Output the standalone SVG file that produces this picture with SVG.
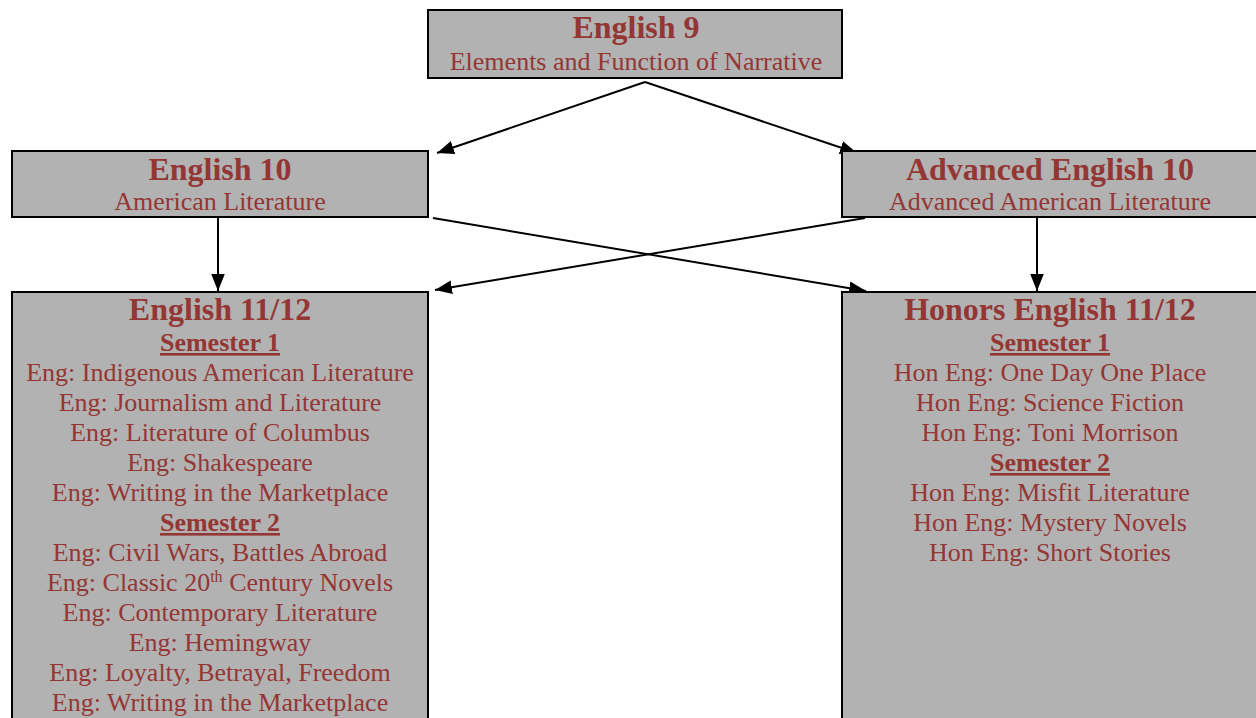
<svg xmlns="http://www.w3.org/2000/svg" width="1256" height="718" viewBox="0 0 1256 718">
<style>
.box{fill:#b2b2b2;stroke:#000;stroke-width:2}
text{font-family:"Liberation Serif","Times New Roman",serif;fill:#943634;text-anchor:middle}
.t{font-size:32px;font-weight:bold}
.s{font-size:26px}
.h{font-size:26px;font-weight:bold;text-decoration:underline}
.c{stroke:#000;stroke-width:2;fill:none;marker-end:url(#ah)}
</style>
<defs>
<marker id="ah" viewBox="0 0 10 8" refX="10" refY="4" markerWidth="8.5" markerHeight="7" orient="auto" markerUnits="strokeWidth">
<path d="M0,0 L10,4 L0,8 z" fill="#000"/>
</marker>
</defs>
<rect width="1256" height="718" fill="#fff"/>
<g id="connectors">
<line class="c" x1="645" y1="82" x2="437" y2="153"/>
<line class="c" x1="645" y1="82" x2="857" y2="153"/>
<line class="c" x1="218" y1="218" x2="218" y2="291"/>
<line class="c" x1="1037" y1="218" x2="1037" y2="291"/>
<line class="c" x1="433" y1="218" x2="866" y2="291"/>
<line class="c" x1="865" y1="218" x2="435" y2="290"/>
</g>
<g id="english9">
<rect class="box" x="428" y="10" width="414" height="68"/>
<text class="t" x="636" y="38">English 9</text>
<text class="s" x="636" y="70">Elements and Function of Narrative</text>
</g>
<g id="english10">
<rect class="box" x="12" y="151" width="416" height="66"/>
<text class="t" x="220" y="180">English 10</text>
<text class="s" x="220" y="210">American Literature</text>
</g>
<g id="advanced10">
<rect class="box" x="842" y="151" width="420" height="66"/>
<text class="t" x="1050" y="180">Advanced English 10</text>
<text class="s" x="1050" y="210">Advanced American Literature</text>
</g>
<g id="english1112">
<rect class="box" x="12" y="292" width="416" height="440"/>
<text class="t" x="220" y="320">English 11/12</text>
<text class="h" x="220" y="351">Semester 1</text>
<text class="s" x="220" y="381">Eng: Indigenous American Literature</text>
<text class="s" x="220" y="411">Eng: Journalism and Literature</text>
<text class="s" x="220" y="441">Eng: Literature of Columbus</text>
<text class="s" x="220" y="471">Eng: Shakespeare</text>
<text class="s" x="220" y="501">Eng: Writing in the Marketplace</text>
<text class="h" x="220" y="531">Semester 2</text>
<text class="s" x="220" y="561">Eng: Civil Wars, Battles Abroad</text>
<text class="s" x="220" y="591">Eng: Classic 20<tspan font-size="16" dy="-9">th</tspan><tspan dy="9"> Century Novels</tspan></text>
<text class="s" x="220" y="621">Eng: Contemporary Literature</text>
<text class="s" x="220" y="651">Eng: Hemingway</text>
<text class="s" x="220" y="681">Eng: Loyalty, Betrayal, Freedom</text>
<text class="s" x="220" y="711">Eng: Writing in the Marketplace</text>
</g>
<g id="honors1112">
<rect class="box" x="842" y="292" width="420" height="440"/>
<text class="t" x="1050" y="320">Honors English 11/12</text>
<text class="h" x="1050" y="351">Semester 1</text>
<text class="s" x="1050" y="381">Hon Eng: One Day One Place</text>
<text class="s" x="1050" y="411">Hon Eng: Science Fiction</text>
<text class="s" x="1050" y="441">Hon Eng: Toni Morrison</text>
<text class="h" x="1050" y="471">Semester 2</text>
<text class="s" x="1050" y="501">Hon Eng: Misfit Literature</text>
<text class="s" x="1050" y="531">Hon Eng: Mystery Novels</text>
<text class="s" x="1050" y="561">Hon Eng: Short Stories</text>
</g>
</svg>
